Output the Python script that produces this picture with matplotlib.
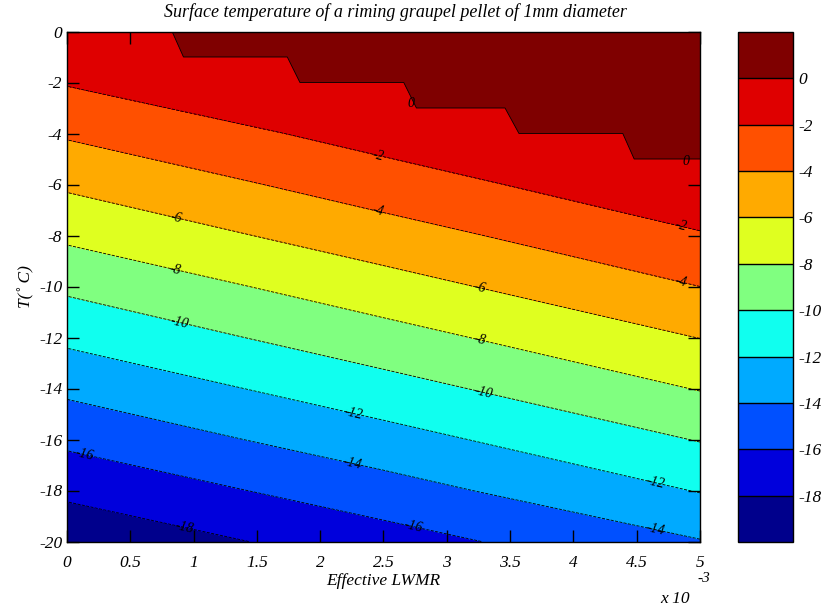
import matplotlib
matplotlib.use('Agg')
import numpy as np
import matplotlib.pyplot as plt
from matplotlib.ticker import FuncFormatter

plt.rcParams['font.family'] = ['Liberation Serif', 'DejaVu Serif']
plt.rcParams['font.style'] = 'italic'
plt.rcParams['font.size'] = 12.5
plt.rcParams['axes.unicode_minus'] = False

# grid: effective LWMR (columns) x air temperature (rows)
lwmr = [0.0, 2.5e-3, 5.0e-3]
temp = [0, -2, -4, -6, -8, -10, -12, -14, -16, -18, -20]
# surface temperature (deg C) at each grid node
ts_lwmr0 = [-0.1, -1.86, -3.76, -5.70, -7.63, -9.63, -11.58, -13.58, -15.56, -17.56, -19.55]
ts_lwmr25 = [0.0, 0.0, -1.2, -2.96, -4.85, -6.8, -8.76, -10.75, -12.76, -14.82, -16.85]
ts_lwmr5 = [0.0, 0.0, 0.0, -0.43, -2.16, -4.0, -5.96, -7.9, -9.9, -11.9, -14.1]

# edge of the region where the surface sits at 0 deg C (staircase)
stair_lwmr = [0.83e-3, 0.92e-3, 1.74e-3, 1.84e-3, 2.66e-3, 2.76e-3, 3.46e-3, 3.57e-3, 4.39e-3, 4.48e-3, 5.0e-3]
stair_temp = [0, -1, -1, -2, -2, -3, -3, -4, -4, -5, -5]

levels = [-20, -18, -16, -14, -12, -10, -8, -6, -4, -2, 0, 2]
colors = ['#00008c', '#0000dc', '#0050ff', '#00aaff', '#10ffef', '#80ff80',
          '#dfff20', '#ffaa00', '#ff5000', '#df0000', '#7f0000']

# label positions (lwmr, T)
label_pos = [(2.45e-3, -5.05), (4.84e-3, -7.79), (2.45e-3, -7.2), (4.84e-3, -9.95),
             (0.85e-3, -7.44), (3.25e-3, -10.26), (0.85e-3, -9.48), (3.25e-3, -12.3),
             (0.88e-3, -11.55), (3.28e-3, -14.34), (2.25e-3, -15.16), (4.64e-3, -17.79),
             (2.25e-3, -17.1), (4.64e-3, -19.63), (0.12e-3, -16.93), (2.73e-3, -19.52),
             (0.92e-3, -19.6)]
zero_label_pos = [(2.72e-3, -2.81), (4.89e-3, -5.09)]

Z = np.column_stack([ts_lwmr0, ts_lwmr25, ts_lwmr5])

fig = plt.figure(figsize=(8.25, 6.1), dpi=100)
ax = fig.add_axes([67/825, 1 - 541.5/610, 633/825, 510/610])
cax = fig.add_axes([738/825, 1 - 542/610, 55/825, 510/610])

cf = ax.contourf(lwmr, temp, Z, levels=levels, colors=colors)
cs = ax.contour(lwmr, temp, Z, levels=levels[1:-2], colors='k', linewidths=0.6)

# the 0 deg C region
ax.fill(stair_lwmr + [5.0e-3, stair_lwmr[0]], stair_temp + [0, 0], color=colors[-1], lw=0, zorder=2)
ax.plot(stair_lwmr, stair_temp, color='k', lw=0.6, zorder=3)

lbls = ax.clabel(cs, inline=False, fmt='%d', fontsize=10, manual=label_pos)
for t in lbls:
    t.set_fontstyle('italic')
for x, y in zero_label_pos:
    ax.text(x, y, '0', fontsize=10, ha='center', va='center', zorder=4)

ax.set_xlim(0, 5e-3)
ax.set_ylim(-20, 0)
ax.set_xticks(np.arange(0, 5.01e-3, 0.5e-3))
ax.set_yticks(np.arange(-20, 1, 2))
ax.xaxis.set_major_formatter(FuncFormatter(lambda v, p: '%g' % round(v * 1e3, 3)))
ax.tick_params(direction='in', length=8.5, width=1, top=True, right=True)
ax.tick_params(axis='x', pad=10)
ax.tick_params(axis='y', pad=3.5)
for s in ax.spines.values():
    s.set_linewidth(1)

ax.set_xlabel('Effective LWMR')
ax.xaxis.set_label_coords(0.5, -0.062)
ax.set_ylabel('T(\u02da C)')
ax.yaxis.set_label_coords(-0.052, 0.5)

fig.text(395/825, 1 - 12/610, 'Surface temperature of a riming graupel pellet of 1mm diameter',
         ha='center', va='center', fontsize=13)
fig.text(660/825, 1 - 599/610, 'x 10', ha='left', va='center')
fig.text(697/825, 1 - 579/610, '-3', ha='left', va='center', fontsize=11)

cb = fig.colorbar(cf, cax=cax, ticks=levels[1:-1], drawedges=True)
cb.outline.set_linewidth(1)
cb.dividers.set_linewidth(1)
cb.ax.tick_params(length=0, pad=4)

fig.savefig('out.png', dpi=100)
